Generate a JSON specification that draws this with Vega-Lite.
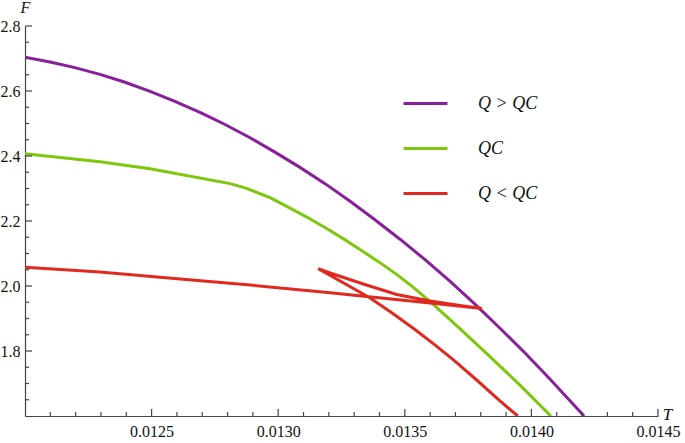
{
  "$schema": "https://vega.github.io/schema/vega-lite/v6.json",
  "width": 633,
  "height": 390,
  "autosize": "none",
  "padding": {"left": 25, "top": 26, "right": 27, "bottom": 27},
  "background": "white",
  "config": {"view": {"stroke": null}, "font": "Liberation Serif"},
  "datasets": {
    "curves": [
      {"series": "Q  >  QC", "i": 0, "T": 0.012000, "F": 2.704},
      {"series": "Q  >  QC", "i": 1, "T": 0.012099, "F": 2.689},
      {"series": "Q  >  QC", "i": 2, "T": 0.012197, "F": 2.672},
      {"series": "Q  >  QC", "i": 3, "T": 0.012296, "F": 2.651},
      {"series": "Q  >  QC", "i": 4, "T": 0.012395, "F": 2.627},
      {"series": "Q  >  QC", "i": 5, "T": 0.012494, "F": 2.599},
      {"series": "Q  >  QC", "i": 6, "T": 0.012592, "F": 2.568},
      {"series": "Q  >  QC", "i": 7, "T": 0.012691, "F": 2.534},
      {"series": "Q  >  QC", "i": 8, "T": 0.012790, "F": 2.497},
      {"series": "Q  >  QC", "i": 9, "T": 0.012889, "F": 2.456},
      {"series": "Q  >  QC", "i": 10, "T": 0.012987, "F": 2.412},
      {"series": "Q  >  QC", "i": 11, "T": 0.013086, "F": 2.365},
      {"series": "Q  >  QC", "i": 12, "T": 0.013185, "F": 2.315},
      {"series": "Q  >  QC", "i": 13, "T": 0.013284, "F": 2.261},
      {"series": "Q  >  QC", "i": 14, "T": 0.013382, "F": 2.204},
      {"series": "Q  >  QC", "i": 15, "T": 0.013481, "F": 2.144},
      {"series": "Q  >  QC", "i": 16, "T": 0.013580, "F": 2.081},
      {"series": "Q  >  QC", "i": 17, "T": 0.013679, "F": 2.014},
      {"series": "Q  >  QC", "i": 18, "T": 0.013777, "F": 1.944},
      {"series": "Q  >  QC", "i": 19, "T": 0.013876, "F": 1.870},
      {"series": "Q  >  QC", "i": 20, "T": 0.013975, "F": 1.794},
      {"series": "Q  >  QC", "i": 21, "T": 0.014073, "F": 1.714},
      {"series": "Q  >  QC", "i": 22, "T": 0.014208, "F": 1.600},
      {"series": "QC", "i": 0, "T": 0.012000, "F": 2.407},
      {"series": "QC", "i": 1, "T": 0.012296, "F": 2.382},
      {"series": "QC", "i": 2, "T": 0.012494, "F": 2.361},
      {"series": "QC", "i": 3, "T": 0.012810, "F": 2.315},
      {"series": "QC", "i": 4, "T": 0.012873, "F": 2.301},
      {"series": "QC", "i": 5, "T": 0.012968, "F": 2.272},
      {"series": "QC", "i": 6, "T": 0.013058, "F": 2.235},
      {"series": "QC", "i": 7, "T": 0.013125, "F": 2.207},
      {"series": "QC", "i": 8, "T": 0.013193, "F": 2.176},
      {"series": "QC", "i": 9, "T": 0.013258, "F": 2.145},
      {"series": "QC", "i": 10, "T": 0.013323, "F": 2.112},
      {"series": "QC", "i": 11, "T": 0.013396, "F": 2.075},
      {"series": "QC", "i": 12, "T": 0.013469, "F": 2.035},
      {"series": "QC", "i": 13, "T": 0.013535, "F": 1.995},
      {"series": "QC", "i": 14, "T": 0.013600, "F": 1.952},
      {"series": "QC", "i": 15, "T": 0.013710, "F": 1.874},
      {"series": "QC", "i": 16, "T": 0.013829, "F": 1.788},
      {"series": "QC", "i": 17, "T": 0.013955, "F": 1.695},
      {"series": "QC", "i": 18, "T": 0.014077, "F": 1.600},
      {"series": "Q  <  QC", "i": 0, "T": 0.012000, "F": 2.0575},
      {"series": "Q  <  QC", "i": 1, "T": 0.012296, "F": 2.043},
      {"series": "Q  <  QC", "i": 2, "T": 0.012533, "F": 2.027},
      {"series": "Q  <  QC", "i": 3, "T": 0.012889, "F": 2.003},
      {"series": "Q  <  QC", "i": 4, "T": 0.013205, "F": 1.979},
      {"series": "Q  <  QC", "i": 5, "T": 0.013600, "F": 1.948},
      {"series": "Q  <  QC", "i": 6, "T": 0.013805, "F": 1.931},
      {"series": "Q  <  QC", "i": 7, "T": 0.013718, "F": 1.940},
      {"series": "Q  <  QC", "i": 8, "T": 0.013600, "F": 1.954},
      {"series": "Q  <  QC", "i": 9, "T": 0.013468, "F": 1.974},
      {"series": "Q  <  QC", "i": 10, "T": 0.013336, "F": 2.006},
      {"series": "Q  <  QC", "i": 11, "T": 0.013205, "F": 2.040},
      {"series": "Q  <  QC", "i": 12, "T": 0.013158, "F": 2.0535},
      {"series": "Q  <  QC", "i": 13, "T": 0.013264, "F": 2.007},
      {"series": "Q  <  QC", "i": 14, "T": 0.013363, "F": 1.963},
      {"series": "Q  <  QC", "i": 15, "T": 0.013450, "F": 1.917},
      {"series": "Q  <  QC", "i": 16, "T": 0.013540, "F": 1.866},
      {"series": "Q  <  QC", "i": 17, "T": 0.013620, "F": 1.818},
      {"series": "Q  <  QC", "i": 18, "T": 0.013698, "F": 1.769},
      {"series": "Q  <  QC", "i": 19, "T": 0.013785, "F": 1.710},
      {"series": "Q  <  QC", "i": 20, "T": 0.013869, "F": 1.651},
      {"series": "Q  <  QC", "i": 21, "T": 0.013946, "F": 1.600}
    ],
    "xminor": [
      {"v": 0.0121}, {"v": 0.0122}, {"v": 0.0123}, {"v": 0.0124},
      {"v": 0.0126}, {"v": 0.0127}, {"v": 0.0128}, {"v": 0.0129},
      {"v": 0.0131}, {"v": 0.0132}, {"v": 0.0133}, {"v": 0.0134},
      {"v": 0.0136}, {"v": 0.0137}, {"v": 0.0138}, {"v": 0.0139},
      {"v": 0.0141}, {"v": 0.0142}, {"v": 0.0143}, {"v": 0.0144}
    ],
    "xmajor": [
      {"v": 0.0125}, {"v": 0.013}, {"v": 0.0135}, {"v": 0.014}, {"v": 0.0145}
    ],
    "yminor": [
      {"v": 1.65}, {"v": 1.7}, {"v": 1.75}, {"v": 1.85}, {"v": 1.9}, {"v": 1.95},
      {"v": 2.05}, {"v": 2.1}, {"v": 2.15}, {"v": 2.25}, {"v": 2.3}, {"v": 2.35},
      {"v": 2.45}, {"v": 2.5}, {"v": 2.55}, {"v": 2.65}, {"v": 2.7}, {"v": 2.75}
    ],
    "ymajor": [
      {"v": 1.8}, {"v": 2.0}, {"v": 2.2}, {"v": 2.4}, {"v": 2.6}, {"v": 2.8}
    ]
  },
  "layer": [
    {
      "data": {"name": "curves"},
      "mark": {"type": "line", "strokeWidth": 3, "clip": true},
      "encoding": {
        "x": {
          "field": "T", "type": "quantitative",
          "scale": {"domain": [0.012, 0.0145], "nice": false, "zero": false},
          "axis": {
            "orient": "bottom",
            "values": [0.0125, 0.013, 0.0135, 0.014, 0.0145],
            "format": ".4f",
            "ticks": false,
            "tickSize": 0,
            "grid": false,
            "labelOverlap": false,
            "labelFlush": false,
            "labelFont": "Liberation Serif",
            "labelFontSize": 16,
            "labelColor": "#111",
            "labelPadding": 7,
            "domainColor": "#444",
            "domainWidth": 1.2,
            "title": "T",
            "titleFont": "Liberation Serif",
            "titleFontStyle": "italic",
            "titleFontWeight": "normal",
            "titleFontSize": 17,
            "titleColor": "#111",
            "titleX": 642,
            "titleY": -2,
            "titleAlign": "center",
            "titleBaseline": "middle"
          }
        },
        "y": {
          "field": "F", "type": "quantitative",
          "scale": {"domain": [1.6, 2.8], "nice": false, "zero": false},
          "axis": {
            "orient": "left",
            "values": [1.8, 2.0, 2.2, 2.4, 2.6, 2.8],
            "format": ".1f",
            "ticks": false,
            "tickSize": 0,
            "grid": false,
            "labelOverlap": false,
            "labelFlush": false,
            "labelFont": "Liberation Serif",
            "labelFontSize": 16,
            "labelColor": "#111",
            "labelPadding": 5,
            "domainColor": "#444",
            "domainWidth": 1.2,
            "title": "F",
            "titleFont": "Liberation Serif",
            "titleFontStyle": "italic",
            "titleFontWeight": "normal",
            "titleFontSize": 16,
            "titleColor": "#111",
            "titleAngle": 0,
            "titleX": 0,
            "titleY": -19,
            "titleAlign": "center",
            "titleBaseline": "middle"
          }
        },
        "color": {
          "field": "series", "type": "nominal",
          "scale": {"domain": ["Q  >  QC", "QC", "Q  <  QC"], "range": ["#8A1F9C", "#7DC70C", "#E02A1F"]},
          "legend": {
            "orient": "none",
            "legendX": 377,
            "legendY": 54,
            "title": null,
            "symbolType": "stroke",
            "symbolSize": 1936,
            "symbolStrokeWidth": 3,
            "labelFont": "Liberation Serif",
            "labelFontStyle": "italic",
            "labelFontSize": 18,
            "labelColor": "#111",
            "labelOffset": 29,
            "rowPadding": 12,
            "padding": 0
          }
        },
        "order": {"field": "i", "type": "quantitative"}
      }
    },
    {
      "data": {"name": "xminor"},
      "mark": {"type": "tick", "orient": "vertical", "size": 4, "thickness": 1.2, "color": "#444", "opacity": 1, "yOffset": -2},
      "encoding": {
        "x": {"field": "v", "type": "quantitative"},
        "y": {"datum": 1.6, "type": "quantitative"}
      }
    },
    {
      "data": {"name": "xmajor"},
      "mark": {"type": "tick", "orient": "vertical", "size": 7, "thickness": 1.2, "color": "#444", "opacity": 1, "yOffset": -3.5},
      "encoding": {
        "x": {"field": "v", "type": "quantitative"},
        "y": {"datum": 1.6, "type": "quantitative"}
      }
    },
    {
      "data": {"name": "yminor"},
      "mark": {"type": "tick", "orient": "horizontal", "size": 4, "thickness": 1.2, "color": "#444", "opacity": 1, "xOffset": 2},
      "encoding": {
        "y": {"field": "v", "type": "quantitative"},
        "x": {"datum": 0.012, "type": "quantitative"}
      }
    },
    {
      "data": {"name": "ymajor"},
      "mark": {"type": "tick", "orient": "horizontal", "size": 7, "thickness": 1.2, "color": "#444", "opacity": 1, "xOffset": 3.5},
      "encoding": {
        "y": {"field": "v", "type": "quantitative"},
        "x": {"datum": 0.012, "type": "quantitative"}
      }
    }
  ]
}
